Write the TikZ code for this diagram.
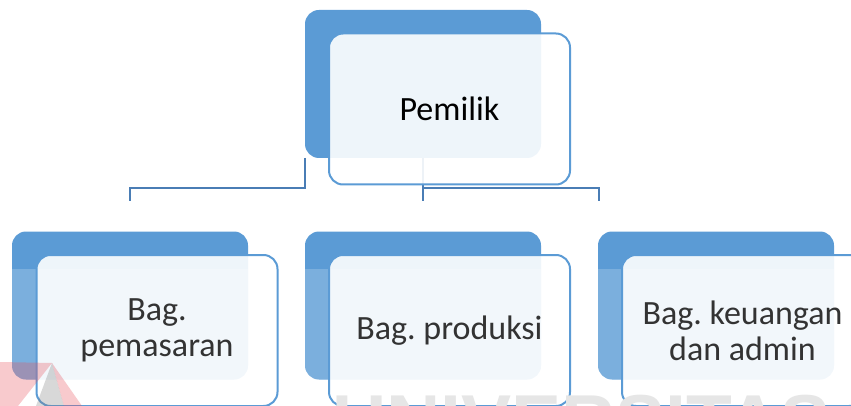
\documentclass[tikz,border=0pt]{standalone}
\usepackage{fontspec}
\setmainfont{Carlito}
\newfontfamily\markfont{Liberation Sans}
\usetikzlibrary{calc}
\definecolor{boxblue}{HTML}{5B9BD5}
\definecolor{linkblue}{HTML}{4A7DB5}
\definecolor{labelgray}{HTML}{333333}
\definecolor{markgray}{HTML}{E6E6E6}
\definecolor{markred}{HTML}{E8505B}

\begin{document}
\frenchspacing
\begin{tikzpicture}[x=1pt,y=-1pt,
  backbox/.style={rectangle, rounded corners=14pt, fill=boxblue, draw=none,
    minimum width=236pt, minimum height=148pt, inner sep=0pt, outer sep=0pt},
  frontbox/.style={rectangle, rounded corners=14pt, draw=boxblue, line width=2pt,
    fill=white, fill opacity=0.9, text opacity=1,
    minimum width=241pt, minimum height=151pt, inner sep=0pt, outer sep=0pt,
    align=center, font=\fontsize{34}{36}\selectfont, text=labelgray},
  link/.style={draw=linkblue, line width=2.2pt},
]
\path[use as bounding box, clip] (0,0) rectangle (851,406);

% back panels
\node[backbox] (topback) at (423,84) {};
\node[backbox] (b1back) at (130,305.5) {};
\node[backbox] (b2back) at (423,305.5) {};
\node[backbox] (b3back) at (716,305.5) {};

% lighter lower part of the lower panels
\foreach \n in {b1back,b2back,b3back}{
  \begin{scope}
    \clip[rounded corners=14pt] (\n.north west) rectangle (\n.south east);
    \fill[white, opacity=.2] ($(\n.north west)+(0,37)$) rectangle (\n.south east);
  \end{scope}
}

% connectors
\draw[link] (topback.south west) -- ++(0,30) -| ($(b1back.north)+(0,-30)$);
\draw[link] (topback.south) -- ($(b2back.north)+(0,-30)$);
\draw[link] ($(topback.south)+(0,30)$) -| ($(b3back.north west)+(1,-30)$);

% front cards with labels
\node[frontbox, text=black] (top) at (449.5,109) {Pemilik};
\node[frontbox] (b1) at (157,330.5) {Bag.\\pemasaran};
\node[frontbox] (b2) at (449.5,330.5) {Bag. produksi};
\node[frontbox] (b3) at (742.5,330.5) {Bag. keuangan\\dan admin};

% faint mark at the bottom
\fill[markred, opacity=.3] (0,362) -- (52,363) -- (18,406) -- (0,406) -- cycle;
\fill[gray, opacity=.3] (52,363) -- (36,406) -- (64,406) -- cycle;
\fill[markred, opacity=.3] (52,363) -- (64,406) -- (82,406) -- cycle;
\node[anchor=base west, inner sep=0pt, text=markgray,
  font=\markfont\bfseries\fontsize{75}{75}\selectfont] (mark) at (332,447.5) {UNIVERSITAS};
\end{tikzpicture}
\end{document}
